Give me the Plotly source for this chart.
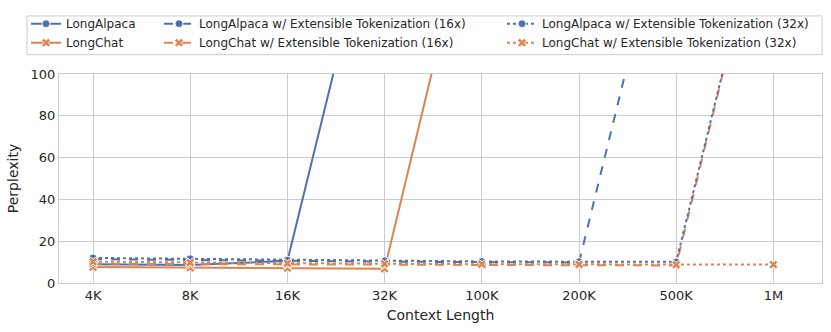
import plotly.graph_objects as go

CONTEXT = ["4K", "8K", "16K", "32K", "100K", "200K", "500K", "1M"]

# perplexity per context length; the last value of the blown-up runs is far off the axis
LONG_ALPACA = [9.0, 8.6, 10.6, 200.0]
LONG_CHAT = [7.6, 7.3, 7.1, 6.8, 200.0]
LONG_ALPACA_16X = [11.4, 11.0, 10.4, 10.2, 10.0, 9.8, 200.0]
LONG_CHAT_16X = [9.2, 9.0, 8.8, 8.7, 8.6, 8.5, 8.4, 200.0]
LONG_ALPACA_32X = [12.0, 11.6, 10.9, 10.6, 10.3, 10.2, 10.1, 200.0]
LONG_CHAT_32X = [10.2, 9.8, 9.4, 9.2, 9.0, 8.9, 8.7, 8.8]

BLUE = "#4c72b0"
ORANGE = "#dd8452"
TEXT = "#262626"
GRID = "#cccccc"
FONT = "DejaVu Sans"

SERIES = [
    ("LongAlpaca", LONG_ALPACA, BLUE, "circle", "solid", "legend"),
    ("LongChat", LONG_CHAT, ORANGE, "x", "solid", "legend"),
    ("LongAlpaca w/ Extensible Tokenization (16x)", LONG_ALPACA_16X, BLUE, "circle", "dash", "legend2"),
    ("LongChat w/ Extensible Tokenization (16x)", LONG_CHAT_16X, ORANGE, "x", "dash", "legend2"),
    ("LongAlpaca w/ Extensible Tokenization (32x)", LONG_ALPACA_32X, BLUE, "circle", "dot", "legend3"),
    ("LongChat w/ Extensible Tokenization (32x)", LONG_CHAT_32X, ORANGE, "x", "dot", "legend3"),
]

fig = go.Figure()
for name, vals, color, symbol, dash, leg in SERIES:
    fig.add_trace(
        go.Scatter(
            x=CONTEXT[: len(vals)],
            y=vals,
            name=name,
            mode="lines+markers",
            line={"color": color, "width": 2, "dash": dash},
            marker={
                "symbol": symbol,
                "size": 8,
                "color": color,
                "line": {"color": "white", "width": 1},
            },
            legend=leg,
            cliponaxis=True,
        )
    )

W, H = 831, 332
ML, MR, MT, MB = 59, 9, 67, 49
pw, ph = W - ML - MR, H - MT - MB


def px_x(px):
    return (px - ML) / pw


def px_y(py):
    return (H - MB - py) / ph


leg_common = {
    "orientation": "v",
    "xanchor": "left",
    "yanchor": "top",
    "y": px_y(0),
    "bgcolor": "rgba(0,0,0,0)",
    "borderwidth": 0,
    "font": {"family": FONT, "size": 12, "color": TEXT},
    "itemwidth": 30,
    "tracegroupgap": 0,
}

fig.update_layout(
    width=W,
    height=H,
    margin={"l": ML, "r": MR, "t": MT, "b": MB},
    paper_bgcolor="white",
    plot_bgcolor="white",
    font={"family": FONT, "size": 13, "color": TEXT},
    legend={**leg_common, "x": px_x(26)},
    legend2={**leg_common, "x": px_x(159)},
    legend3={**leg_common, "x": px_x(502)},
    shapes=[
        {
            "type": "rect",
            "xref": "paper",
            "yref": "paper",
            "x0": px_x(27),
            "x1": px_x(822),
            "y0": px_y(47),
            "y1": px_y(7),
            "line": {"color": GRID, "width": 1},
            "fillcolor": "rgba(0,0,0,0)",
            "layer": "above",
        }
    ],
    xaxis={
        "type": "category",
        "categoryorder": "array",
        "categoryarray": CONTEXT,
        "range": [-0.35, 7.5],
        "showgrid": True,
        "gridcolor": GRID,
        "gridwidth": 1,
        "showline": True,
        "linecolor": GRID,
        "linewidth": 1,
        "mirror": True,
        "ticks": "",
        "tickfont": {"size": 13, "color": TEXT},
        "title": {"text": "Context Length", "font": {"size": 14, "color": TEXT}, "standoff": 8},
        "zeroline": False,
    },
    yaxis={
        "range": [0, 100],
        "tickvals": [0, 20, 40, 60, 80, 100],
        "showgrid": True,
        "gridcolor": GRID,
        "gridwidth": 1,
        "showline": True,
        "linecolor": GRID,
        "linewidth": 1,
        "mirror": True,
        "ticks": "",
        "tickfont": {"size": 13, "color": TEXT},
        "title": {"text": "Perplexity", "font": {"size": 14, "color": TEXT}, "standoff": 8},
        "zeroline": False,
    },
)

# the page's default body margin would shift the figure by 8px
fig.write_html(
    "out.html",
    config={"displayModeBar": False},
    post_script="document.body.style.margin = '0';",
)
